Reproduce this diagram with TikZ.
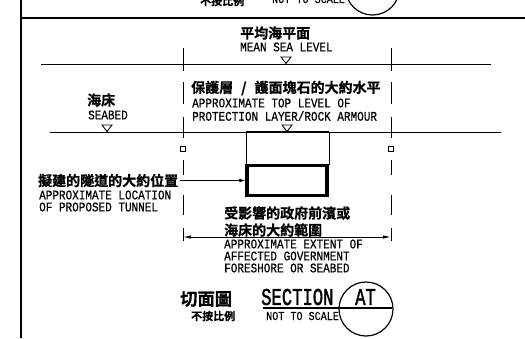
\documentclass[tikz,border=0pt]{standalone}
\usepackage{fontspec}
\setmainfont{Liberation Mono}[FakeBold=0.6]
\newfontfamily\sectfont{Liberation Mono}[FakeBold=2]
\newfontfamily\cjk{Noto Sans CJK TC Bold}[FakeBold=0.8]
\usetikzlibrary{arrows.meta}
\tikzset{
  cadlabel/.style={anchor=west,inner sep=0pt,yscale=1.2,transform shape,font=\fontsize{11}{11}\selectfont},
  cadsmall/.style={anchor=west,inner sep=0pt,yscale=1.2,transform shape,font=\fontsize{10.1}{11}\selectfont},
  cadbig/.style={anchor=west,inner sep=0pt,yscale=1.4,transform shape,font=\sectfont\fontsize{17.2}{17}\selectfont},
  zhlabel/.style={anchor=west,inner sep=0pt,font=\cjk\fontsize{14}{14}\selectfont},
  zhsmall/.style={anchor=west,inner sep=0pt,font=\cjk\fontsize{11}{11}\selectfont},
  zhbig/.style={anchor=west,inner sep=0pt,font=\cjk\fontsize{17.3}{17}\selectfont},
  frameline/.style={line width=1.8pt},
  level/.style={line width=0.9pt},
  guide/.style={line width=0.9pt},
  wedge/.style={line width=0.9pt},
  marker/.style={draw,line width=1.3pt,minimum size=5pt,inner sep=0pt},
  upperbox/.style={draw,line width=1pt,inner sep=0pt},
  lowerbox/.style={draw,line width=3.2pt,inner sep=0pt},
}
\begin{document}
\begin{tikzpicture}[x=1pt,y=-1pt]
\useasboundingbox (0,0) rectangle (525,338);
\clip (0,0) rectangle (525,338);
% frame
\coordinate (fa) at (21,0); \coordinate (fb) at (21,338);
\coordinate (fc) at (21,18); \coordinate (fd) at (525,18);
\draw[frameline] (fa) -- (fb);
\draw[frameline] (fc) -- (fd);
% top clipped title
\node[zhsmall] at (200,1) {不按比例};
\node[cadsmall] at (272,-1) {NOT TO SCALE};
\draw[line width=1.2pt] (372.5,-12) circle (27);
% levels
\coordinate (msla) at (41,64); \coordinate (mslb) at (491,64);
\coordinate (seaa) at (50,132); \coordinate (seab) at (501,132);
\draw[level] (msla) -- (mslb);
\draw[level] (seaa) -- (seab);
% guides
\foreach \x in {183,391}{
  \draw[guide] (\x,48) -- (\x,71);
  \draw[guide] (\x,82) -- (\x,104);
  \draw[guide] (\x,117) -- (\x,138);
  \node[marker] at (\x,149) {};
  \draw[guide] (\x,160) -- (\x,175);
  \draw[guide] (\x,195) -- (\x,215);
  \draw[guide] (\x,228) -- (\x,241);
}
% triangles
\draw[wedge] (281,57) -- (291,57) -- (286,63.5) -- cycle;
\draw[wedge] (282,125) -- (292,125) -- (287,131.5) -- cycle;
\draw[wedge] (102,125) -- (112,125) -- (107,131.5) -- cycle;
% boxes
\node[upperbox,minimum width=83pt,minimum height=32pt] (upper) at (287.5,148) {};
\draw[line width=2.4pt] (246,132) -- (329,132);
\node[lowerbox,minimum width=80pt,minimum height=30pt] (lower) at (287,180.5) {};
% texts
\node[zhlabel] at (240,33) {平均海平面};
\node[cadlabel] at (240,47) {MEAN SEA LEVEL};
\node[zhlabel] at (191,88) {保護層\hspace{8pt}/\hspace{8pt}護面塊石的大約水平};
\node[cadlabel] at (192,103) {APPROXIMATE TOP LEVEL OF};
\node[cadlabel] at (192,116) {PROTECTION LAYER/ROCK ARMOUR};
\node[zhlabel] at (87,100) {海床};
\node[cadlabel] at (88,115) {SEABED};
\node[zhlabel] (tunnel) at (38,180.5) {擬建的隧道的大約位置};
\node[cadlabel] at (39,195) {APPROXIMATE LOCATION};
\node[cadlabel] at (39,207) {OF PROPOSED TUNNEL};
\node[zhlabel] at (224,213) {受影響的政府前濱或};
\node[zhlabel] at (224,230) {海床的大約範圍};
\node[cadlabel] at (224,244) {APPROXIMATE EXTENT OF};
\node[cadlabel] at (224,256) {AFFECTED GOVERNMENT};
\node[cadlabel] at (224,268) {FORESHORE OR SEABED};
\node[zhbig] at (180,299) {切面圖};
\node[zhsmall] at (191,316) {不按比例};
\node[cadbig] (sect) at (261,297) {SECTION};
\node[cadbig] (at) at (355,297) {AT};
\node[cadsmall] at (266,316) {NOT TO SCALE};
% section symbol
\coordinate (ula) at (263,308); \coordinate (ulb) at (392,308);
\draw[line width=1.2pt] (366,309) circle (27);
\draw[line width=1.5pt] (ula) -- (ulb);
% connectors
\draw[line width=0.9pt,-{Latex[length=6pt,width=4pt]},shorten <=2pt] (tunnel.east) -- (lower.west);
\coordinate (exa) at (183,237); \coordinate (exb) at (391,237);
\draw[line width=0.9pt,{Latex[length=8pt,width=3.5pt]}-{Latex[length=8pt,width=3.5pt]}] (exa) -- (exb);
\end{tikzpicture}
\end{document}
